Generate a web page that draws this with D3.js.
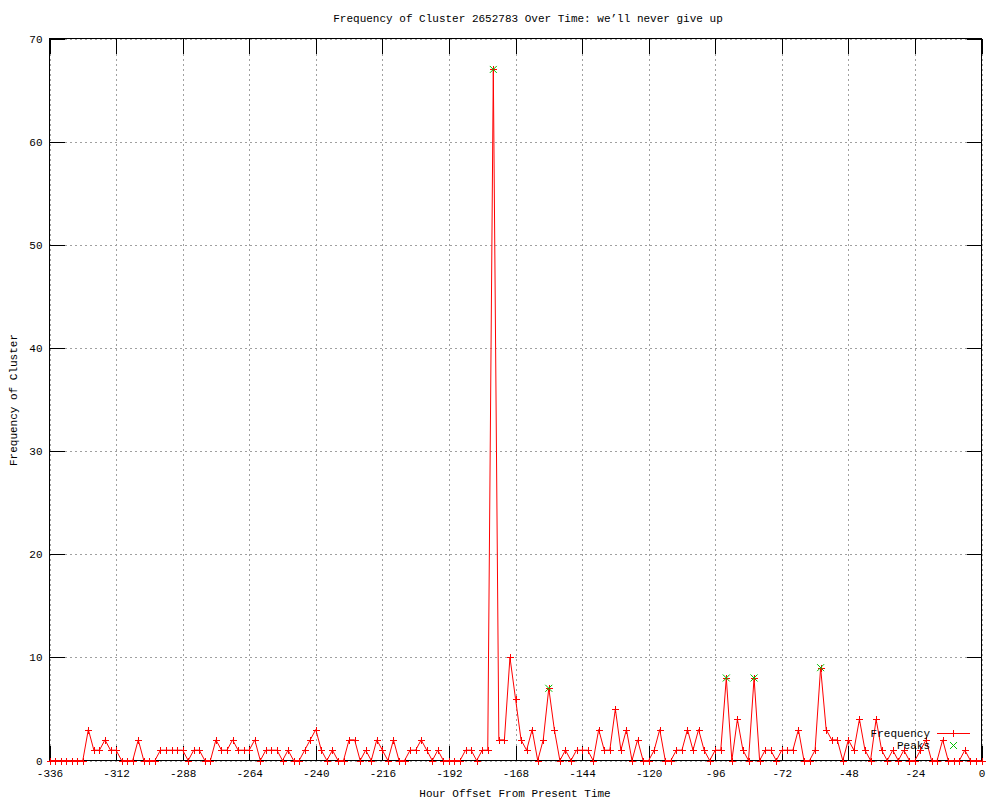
<!DOCTYPE html>
<html>
<head>
<meta charset="utf-8">
<script src="https://cdn.jsdelivr.net/npm/d3@7"></script>
<style>
  body { margin: 0; background: #fff; }
  svg { display: block; }
  text { font-family: "Liberation Mono", "DejaVu Sans Mono", monospace; font-size: 11px; fill: #000; }
</style>
</head>
<body>
<svg id="chart" width="1000" height="800"></svg>
<script>
// hours offset, one sample every 2 hours
const hours = d3.range(-336, 1, 2);
const frequency = [
  0, 0, 0, 0, 0, 0, 0, 3, 1, 1, 2, 1, 1, 0, 0, 0, 2, 0, 0, 0,
  1, 1, 1, 1, 1, 0, 1, 1, 0, 0, 2, 1, 1, 2, 1, 1, 1, 2, 0, 1,
  1, 1, 0, 1, 0, 0, 1, 2, 3, 1, 0, 1, 0, 0, 2, 2, 0, 1, 0, 2,
  1, 0, 2, 0, 0, 1, 1, 2, 1, 0, 1, 0, 0, 0, 0, 1, 1, 0, 1, 1,
  67, 2, 2, 10, 6, 2, 1, 3, 0, 2, 7, 3, 0, 1, 0, 1, 1, 1, 0, 3,
  1, 1, 5, 1, 3, 0, 2, 0, 0, 1, 3, 0, 0, 1, 1, 3, 1, 3, 1, 0,
  1, 1, 8, 0, 4, 1, 0, 8, 0, 1, 1, 0, 1, 1, 1, 3, 0, 0, 1, 9,
  3, 2, 2, 0, 2, 1, 4, 1, 0, 4, 1, 0, 1, 0, 1, 0, 0, 1, 2, 0,
  0, 2, 0, 0, 0, 1, 0, 0, 0
];
const peakHours = [-176, -156, -92, -82, -58];
const peakValues = [67, 7, 8, 8, 9];
const xTicks = d3.range(-336, 1, 24);
const yTicks = d3.range(0, 71, 10);

const title = "Frequency of Cluster 2652783 Over Time: we\u2019ll never give up";
const xTitle = "Hour Offset From Present Time";
const yTitle = "Frequency of Cluster";

const data = hours.map((h, i) => ({ hour: h, value: frequency[i] }));
const peaks = peakHours.map((h, i) => ({ hour: h, value: peakValues[i] }));

const plotLeft = 49.5, plotRight = 981.5, plotTop = 38.5, plotBottom = 760.5;
const tickLen = 15;

const svg = d3.select("#chart");

const x = d3.scaleLinear().domain([-336, 0]).range([plotLeft, plotRight]);
const y = d3.scaleLinear().domain([0, 70]).range([plotBottom, plotTop]);

// grid
const grid = svg.append("g")
  .attr("stroke", "#a0a0a0")
  .attr("stroke-dasharray", "2,3")
  .attr("shape-rendering", "crispEdges");
grid.selectAll(".gx").data(xTicks).join("line")
  .attr("x1", d => Math.round(x(d)) + 0.5).attr("x2", d => Math.round(x(d)) + 0.5)
  .attr("y1", plotTop).attr("y2", plotBottom);
grid.selectAll(".gy").data(yTicks).join("line")
  .attr("y1", d => Math.round(y(d)) + 0.5).attr("y2", d => Math.round(y(d)) + 0.5)
  .attr("x1", plotLeft).attr("x2", plotRight);

const fmt = d => String(d);

const drawAxis = (axisType, scale, ticks, transform) => {
  const g = svg.append("g")
    .attr("transform", transform)
    .call(axisType(scale).tickValues(ticks).tickSize(tickLen).tickFormat(fmt));
  g.attr("font-family", null).attr("font-size", null);
  g.select(".domain").remove();
  g.selectAll("line").attr("stroke", "#000").attr("shape-rendering", "crispEdges");
  return g;
};

// bottom axis: ticks pointing inward, labels below
const xb = drawAxis(d3.axisTop, x, xTicks, `translate(0,${plotBottom})`);
xb.selectAll("text").attr("y", 16.5).attr("dy", 0);
// top mirror ticks
const xt = drawAxis(d3.axisBottom, x, xTicks, `translate(0,${plotTop})`);
xt.selectAll("text").remove();

// left axis: ticks inward, labels left
const yl = drawAxis(d3.axisRight, y, yTicks, `translate(${plotLeft},0)`);
yl.selectAll("text").attr("x", -7).attr("text-anchor", "end");
// right mirror ticks
const yr = drawAxis(d3.axisLeft, y, yTicks, `translate(${plotRight},0)`);
yr.selectAll("text").remove();

// border
svg.append("rect")
  .attr("x", plotLeft).attr("y", plotTop)
  .attr("width", plotRight - plotLeft).attr("height", plotBottom - plotTop)
  .attr("fill", "none").attr("stroke", "#000")
  .attr("shape-rendering", "crispEdges");

// series line
const line = d3.line().x(d => x(d.hour)).y(d => y(d.value));
svg.append("path")
  .datum(data)
  .attr("fill", "none")
  .attr("stroke", "#ff0000")
  .attr("stroke-width", 1)
  .attr("d", line);

const plus = (cx, cy, r) => `M${cx - r},${cy}H${cx + r}M${cx},${cy - r}V${cy + r}`;
const cross = (cx, cy, r) => `M${cx - r},${cy - r}L${cx + r},${cy + r}M${cx - r},${cy + r}L${cx + r},${cy - r}`;

svg.append("g").selectAll("path").data(data).join("path")
  .attr("d", d => plus(Math.round(x(d.hour)) + 0.5, Math.round(y(d.value)) + 0.5, 3.5))
  .attr("stroke", "#ff0000")
  .attr("fill", "none")
  .attr("shape-rendering", "crispEdges");

svg.append("g").selectAll("path").data(peaks).join("path")
  .attr("d", d => cross(x(d.hour), y(d.value), 3.5))
  .attr("stroke", "#00c000")
  .attr("fill", "none");

// legend
const legend = svg.append("g");
legend.append("text").attr("x", 930).attr("y", 737).attr("text-anchor", "end").text("Frequency");
legend.append("path").attr("d", "M937,733.5H970")
  .attr("stroke", "#ff0000").attr("fill", "none").attr("shape-rendering", "crispEdges");
legend.append("path").attr("d", plus(953.5, 733.5, 3.5))
  .attr("stroke", "#ff0000").attr("fill", "none").attr("shape-rendering", "crispEdges");
legend.append("text").attr("x", 930).attr("y", 749).attr("text-anchor", "end").text("Peaks");
legend.append("path").attr("d", cross(953.5, 745.5, 3.5))
  .attr("stroke", "#00c000").attr("fill", "none");

// titles
svg.append("text").attr("x", 528).attr("y", 22).attr("text-anchor", "middle").text(title);
svg.append("text").attr("x", 515).attr("y", 797).attr("text-anchor", "middle").text(xTitle);
svg.append("text")
  .attr("transform", "translate(17,400) rotate(-90)")
  .attr("text-anchor", "middle")
  .text(yTitle);
</script>
</body>
</html>
